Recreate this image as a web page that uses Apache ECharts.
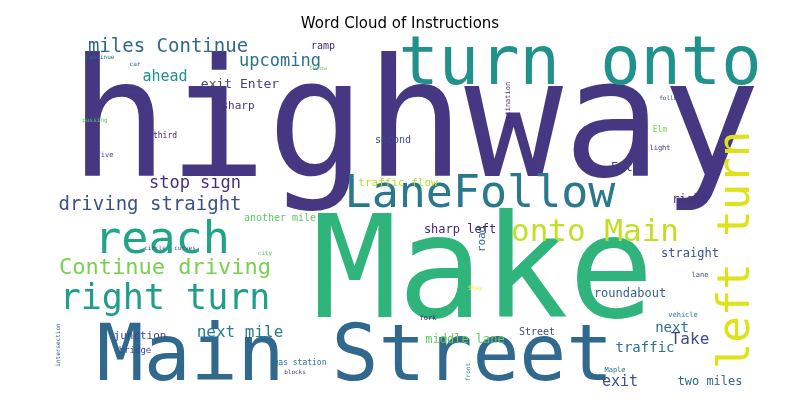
<!DOCTYPE html>
<html><head><meta charset="utf-8">
<script src="https://cdn.jsdelivr.net/npm/echarts@6/dist/echarts.min.js"></script>
<style>html,body{margin:0;background:#fff}#c{width:800px;height:413px}</style>
</head><body><div id="c"></div>
<script>
const words = ["highway","Make","Main Street","turn onto","LaneFollow","left turn","reach","right turn","Continue driving","onto Main","driving straight","stop sign","miles Continue","upcoming","ahead","exit Enter","sharp","ramp","second","traffic flow","another mile","Enter","right","road","sharp left","straight","roundabout","next","Take","traffic","exit","two miles","next mile","middle lane","Street","junction","bridge","gas station","Elm","light","third","five","passing","Merge","car","Continue","fork","vehicle","lane","Stay","Maple","front","blocks","intersection","circle","curves","city","destination","follow","throw"];
const xs = [415,483,355,580,480,738,162,165,165,595,150,195,168,280,165,240,238,323,393,398,280,629,690,482,460,690,630,672,690,645,620,710,240,465,537,140,135,300,660,660,165,105,95,130,135,100,428,683,700,475,615,468,295,58,155,185,265,508,670,318];
const ys = [133,280,360,67,195,250,241,300,268,233,205,184,47,62,77,85,106,46,140,183,218,168,200,239,230,254,294,328,340,348,382,382,333,340,332,336,351,363,130,148,136,155,120,92,64,57,318,315,275,288,370,372,372,345,248,248,253,105,98,68];
const sizes = [164,142,78,67,45,44,45,35,22,31,19,17,19,17,15,13,11,10,10,11,10,12,12,11,12,12,12,14,16,14,15,12,16,12,10,11,9,8,8,7,8,7,6,6,6,6,7,7,7,6,7,6,6,6,6,6,6,7,6,6];
const colors = ["#453781","#2fb47c","#31688e","#21918c","#2a788e","#dde318","#20a486","#1f9e89","#7ad151","#c2df23","#3b528b","#472d7b","#31688e","#2c728e","#21918c","#414487","#46337e","#472d7b","#3e4a89","#b5de2b","#5ec962","#433e85","#46327e","#2c728e","#482475","#3b528b","#355f8d","#2d708e","#3e4a89","#2c728e","#3b528b","#31688e","#287d8e","#65cb5e","#3e4a89","#404688","#3e4a89","#2c728e","#7ad151","#46327e","#482475","#414487","#5ec962","#414487","#3b528b","#31688e","#482475","#2c728e","#3e4a89","#fde725","#31688e","#2a788e","#414487","#3b528b","#404688","#3e4a89","#5ec962","#482475","#3e4a89","#7ad151"];
const rots = [0,0,0,0,0,90,0,0,0,0,0,0,0,0,0,0,0,0,0,0,0,0,0,90,0,0,0,0,0,0,0,0,0,0,0,0,0,0,0,0,0,0,0,0,0,0,0,0,0,0,0,90,0,90,0,0,0,90,0,0];
const data = words.map((w,i)=>({value:[xs[i],ys[i]],name:w,label:{show:true,formatter:w,fontSize:sizes[i],color:colors[i],opacity:1,rotate:rots[i],position:'inside',fontFamily:'DejaVu Sans Mono'}}));
const ch = echarts.init(document.getElementById('c'));
ch.setOption({
  backgroundColor:'#fff',
  title:{text:'Word Cloud of Instructions',left:'center',top:12,textStyle:{fontFamily:'DejaVu Sans',fontSize:15,fontWeight:'normal',color:'#000'}},
  grid:{left:0,right:0,top:0,bottom:0},
  xAxis:{type:'value',min:0,max:800,show:false},
  yAxis:{type:'value',min:0,max:413,inverse:true,show:false},
  series:[{type:'scatter',symbolSize:0,itemStyle:{opacity:1},data:data,labelLayout:{hideOverlap:false},animation:false,emphasis:{disabled:true}}]
});
</script></body></html>
